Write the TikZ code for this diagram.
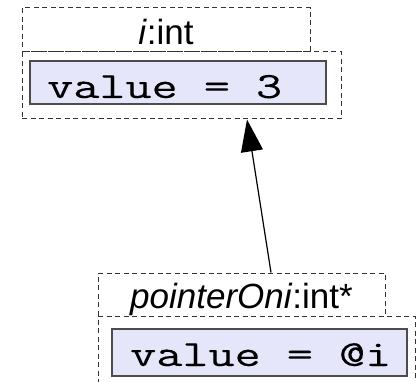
\documentclass[tikz,border=0pt]{standalone}
\usepackage{fontspec}
\setsansfont{Liberation Sans}
\setmonofont{Latin Modern Mono}[FakeBold=0.15]
\usetikzlibrary{arrows.meta}
\definecolor{valfill}{HTML}{E6E6FA}
\tikzset{
  frame/.style={draw=black!80, dash pattern=on 5pt off 3.5pt, line width=1pt,
    inner sep=0pt, rectangle},
  valbox/.style={draw=black!70, fill=valfill, line width=1.2pt, inner sep=0pt, rectangle},
  titletext/.style={font=\fontsize{35}{40}\selectfont\sffamily, inner sep=0pt, anchor=base},
  codetext/.style={font=\fontsize{37}{40}\selectfont\ttfamily, inner sep=0pt, anchor=base west},
  ptr/.style={line width=1.2pt, -{Triangle[length=32pt,width=22pt]}}
}
\begin{document}
\begin{tikzpicture}[x=1pt,y=-1pt]
\useasboundingbox (0,0) rectangle (417,382);
\clip (0,0) rectangle (417,382);
% object i : int
\node[frame, minimum width=288pt, minimum height=44pt] (ititle) at (166,30) {};
\node[frame, minimum width=319pt, minimum height=67pt] (ibody) at (181.5,85.5) {};
\node[valbox, minimum width=296pt, minimum height=43pt] (ival) at (178,82.5) {};
\node[titletext] (ilabel) at (166,45) {\textit{i}:int};
\node[codetext] (icode) at (47,98) {\scalebox{1.37}[1]{value = 3}};
% object pointerOni : int*
\node[frame, minimum width=287pt, minimum height=43pt] (ptitle) at (241.5,294.5) {};
\node[frame, minimum width=317pt, minimum height=68pt] (pbody) at (256.5,350) {};
\node[valbox, minimum width=295pt, minimum height=47pt] (pval) at (259.5,352.5) {};
\node[titletext] (plabel) at (241.5,308) {\textit{pointerOni}:int*};
\node[codetext] (pcode) at (130,366) {\scalebox{1.37}[1]{value = @i}};
% pointer reference
\draw[ptr] ([xshift=29.5pt]ptitle.north) -- ([xshift=65.5pt]ibody.south);
\end{tikzpicture}
\end{document}
